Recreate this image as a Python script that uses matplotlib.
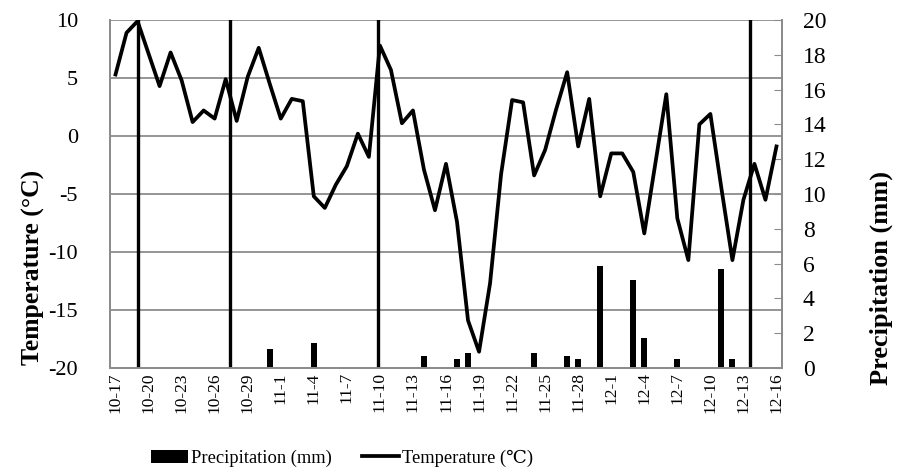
import numpy as np
import matplotlib
matplotlib.use("Agg")
import matplotlib.pyplot as plt
from datetime import date, timedelta

plt.rcParams['font.family'] = ['Liberation Serif', 'DejaVu Serif']
plt.rcParams['axes.unicode_minus'] = False

# daily dates 10-17 .. 12-16
start = date(2020, 10, 17)
dates = [start + timedelta(days=k) for k in range(61)]
date_labels = ["%d-%d" % (d.month, d.day) for d in dates]

temperature = [5.3, 8.9, 9.9, 7.1, 4.3, 7.2, 4.8, 1.2, 2.2, 1.5,
               4.9, 1.3, 5.1, 7.6, 4.5, 1.5, 3.2, 3.0, -5.2, -6.2,
               -4.2, -2.6, 0.2, -1.8, 7.8, 5.7, 1.1, 2.2, -2.9, -6.4,
               -2.4, -7.4, -15.9, -18.6, -12.7, -3.3, 3.1, 2.9, -3.4, -1.2,
               2.3, 5.5, -0.9, 3.2, -5.2, -1.5, -1.5, -3.1, -8.4, -2.4,
               3.6, -7.1, -10.7, 1.0, 1.9, -4.5, -10.7, -5.5, -2.4, -5.5,
               -0.9]

# precipitation (mm), non-zero days by index
precip_days = [14, 18, 28, 31, 32, 38, 41, 42, 44, 47, 48, 51, 55, 56]
precip_vals = [1.07, 1.46, 0.69, 0.5, 0.88, 0.88, 0.69, 0.5, 5.86, 5.06, 1.71, 0.5, 5.67, 0.5]
precipitation = np.zeros(len(dates))
precipitation[precip_days] = precip_vals

# vertical marker lines (category position)
marker_pos = [2.05, 10.35, 23.85, 57.58]

x = np.arange(len(dates))
grey = '#8c8c8c'

fig = plt.figure(figsize=(8.98, 4.76), dpi=100)
ax = fig.add_axes([0.1225, 0.2269, 0.7483, 0.7311])
ax2 = ax.twinx()
ax3 = ax.twinx()

# left axis: temperature scale and grid
ax.set_xlim(-0.5, len(dates) - 0.5)
ax.set_ylim(-20, 10)
ax.set_yticks(np.arange(-20, 11, 5))
ax.grid(axis='y', color=grey, linewidth=1.3)
ax.set_axisbelow(True)
ax.tick_params(axis='y', labelsize=16, length=0, pad=23)
ax.set_xticks(x[::3])
ax.set_xticklabels(date_labels[::3], rotation=90, fontsize=12.5)
ax.tick_params(axis='x', length=0, pad=3)
ax.set_ylabel('Temperature (°C)', fontsize=18.5, fontweight='bold')
ax.yaxis.set_label_coords(-0.097, 0.29)

# right axis: precipitation bars
ax2.bar(x, precipitation, width=0.55, color='black', label='Precipitation (mm)')
ax2.set_ylim(0, 20)
ax2.set_yticks(np.arange(0, 21, 2))
ax2.tick_params(axis='y', labelsize=17, direction='in', length=6, color=grey, pad=15)
ax2.set_ylabel('Precipitation (mm)', fontsize=19, fontweight='bold')
ax2.yaxis.set_label_coords(1.131, 0.26)

# line on top
ax3.plot(x, temperature, color='black', linewidth=2.7, label='Temperature (\u2103)')
for p in marker_pos:
    ax3.axvline(p, color='black', linewidth=2.4)
ax3.set_ylim(-20, 10)
ax3.set_yticks([])

for a in (ax, ax2, ax3):
    for s in a.spines.values():
        s.set_color(grey)
        s.set_linewidth(1.3)
    a.spines['top'].set_visible(False)

h1, l1 = ax2.get_legend_handles_labels()
h2, l2 = ax3.get_legend_handles_labels()
fig.legend(h1 + h2, l1 + l2, loc='center', bbox_to_anchor=(0.381, 0.038), ncol=2,
           frameon=False, fontsize=13.3, handlelength=2.0, handletextpad=0.2,
           columnspacing=1.6)

fig.savefig('out.png', dpi=100)
